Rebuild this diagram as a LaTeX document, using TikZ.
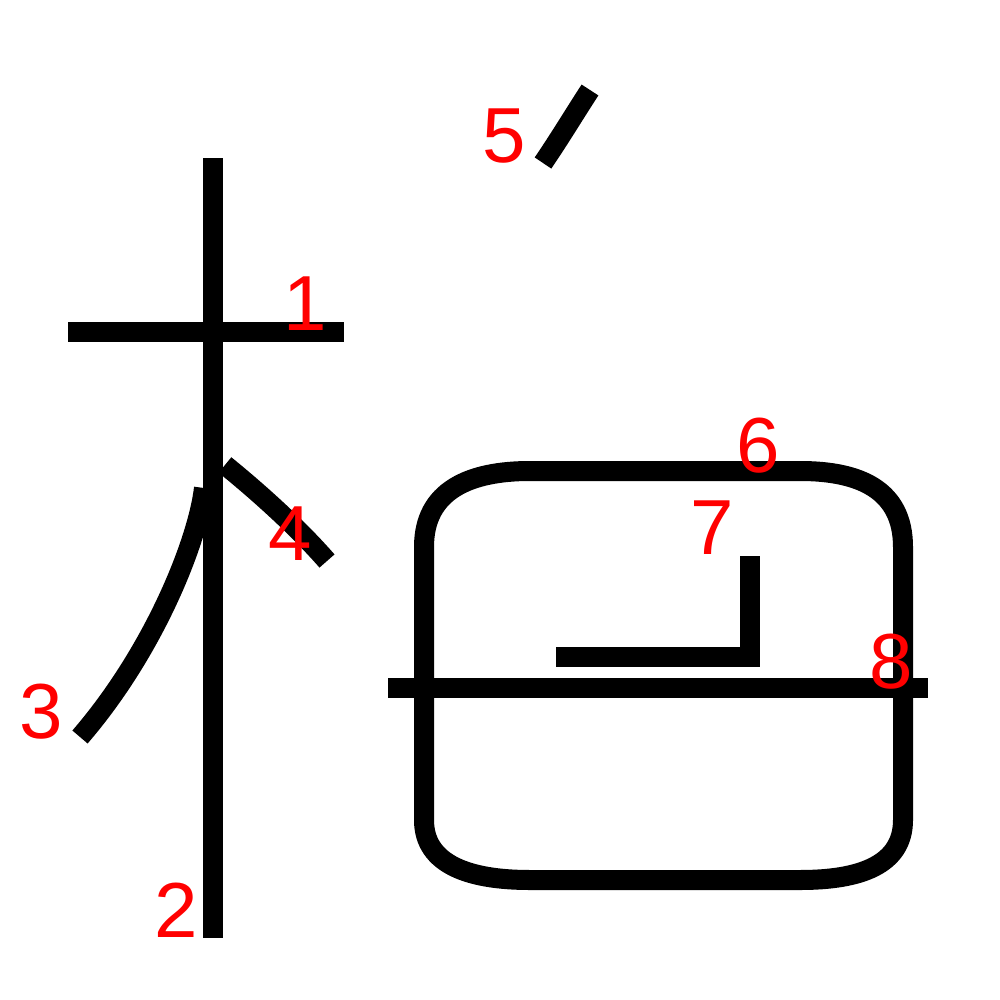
\documentclass[tikz,border=0pt]{standalone}
\usepackage{fontspec}
\newfontfamily\labelfont{Liberation Sans}
\begin{document}
\begin{tikzpicture}[x=0.01cm, y=-0.01cm,
    brush/.style={black, line width=5.69pt},
    order label/.style={text=red, font=\labelfont\fontsize{22.2pt}{23pt}\selectfont, inner sep=0pt}]
    % Fix the page to the 1000 x 1000 square
    \useasboundingbox (0, 0) rectangle (1000, 1000);

    % Left part: strokes 1 to 4
    \draw[brush] (68, 332) -- (344, 332);% Horizontal stroke
    \draw[brush] (213, 158) -- (213, 938);% Vertical stroke
    \draw[brush] (204, 488) .. controls (198, 540) and (155, 650) .. (80, 737);% Left sweep
    \draw[brush] (225, 465) .. controls (262, 495) and (300, 530) .. (327, 561);% Right dot

    % Right part: strokes 5 to 8
    \draw[brush] (590, 90) .. controls (575, 113) and (560, 138) .. (543, 163);% Top dot
    \draw[brush] (424, 547) .. controls (424, 490) and (470, 471) .. (530, 471) -- (800, 471)
        .. controls (860, 471) and (903, 490) .. (903, 547) -- (903, 820)
        .. controls (903, 865) and (860, 880) .. (800, 880) -- (530, 880)
        .. controls (470, 880) and (424, 865) .. (424, 820) -- cycle;% Rounded frame
    \draw[brush] (750, 556) -- (750, 657) -- (556, 657);% Inner hook
    \draw[brush] (388, 688) -- (928, 688);% Long horizontal

    % Stroke order numbers
    \node[order label] (n1) at (305, 304) {1};
    \node[order label] (n2) at (176, 910) {2};
    \node[order label] (n3) at (41, 712) {3};
    \node[order label] (n4) at (290, 534) {4};
    \node[order label] (n5) at (504, 136) {5};
    \node[order label] (n6) at (758, 446) {6};
    \node[order label] (n7) at (712, 528) {7};
    \node[order label] (n8) at (891, 662) {8};
\end{tikzpicture}
\end{document}
